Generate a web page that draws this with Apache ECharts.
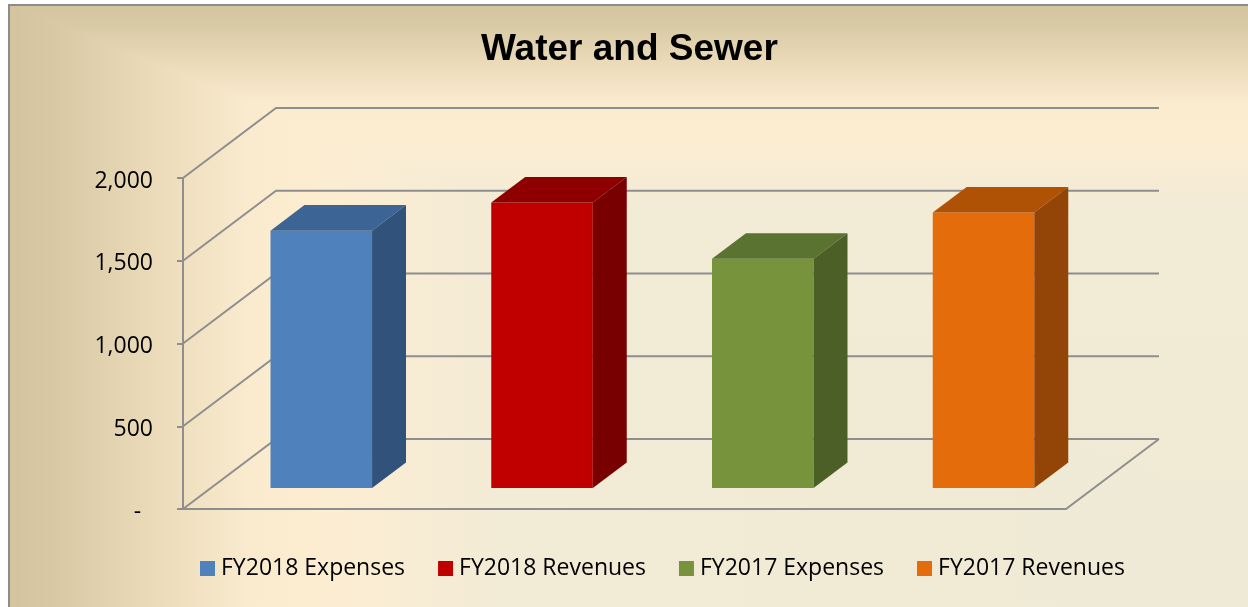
<!DOCTYPE html>
<html>
<head>
<meta charset="utf-8">
<title>Water and Sewer</title>
<script src="https://cdn.jsdelivr.net/npm/echarts@6/dist/echarts.min.js"></script>
<style>
    html, body { margin: 0; padding: 0; background: #ffffff; }
    #main { width: 1248px; height: 607px; }
</style>
</head>
<body>
<div id="main"></div>
<script>
;(function () {

    var seriesNames = ['FY2018 Expenses', 'FY2018 Revenues', 'FY2017 Expenses', 'FY2017 Revenues'];
    var seriesValues = [1555, 1725, 1385, 1665];
    var yTickValues = [0, 500, 1000, 1500, 2000];
    var yTickLabels = ['-  ', '500', '1,000', '1,500', '2,000'];

    // front / top / side shade of each bar
    var shades = [
        ['#4F81BD', '#3C6494', '#30527B'],
        ['#C00000', '#8E0000', '#780000'],
        ['#77933C', '#5B7331', '#4C5F27'],
        ['#E46C0A', '#B05206', '#934407']
    ];

    var DEPTH_X = 93, DEPTH_Y = -70;   // offset of the back wall
    var BAR_FRONT = 0.3, BAR_BACK = 0.665, BAR_WIDTH = 0.46;
    var LINE = '#8E8E8E';

    function renderFrame(params, api) {
        var cs = params.coordSys;
        var v = api.value(1);
        var y = api.coord([0, v])[1];
        var left = cs.x, right = cs.x + cs.width;
        var children = [{
            type: 'polyline',
            shape: { points: [[left, y], [left + DEPTH_X, y + DEPTH_Y], [right + DEPTH_X, y + DEPTH_Y]] },
            style: { stroke: LINE, lineWidth: 2, fill: null }
        }];
        if (v === 0) {
            children.push({
                type: 'polyline',
                shape: { points: [[left, y], [right, y], [right + DEPTH_X, y + DEPTH_Y]] },
                style: { stroke: LINE, lineWidth: 2, fill: null }
            });
        }
        return { type: 'group', children: children };
    }

    function makeBarRenderer(k) {
        return function (params, api) {
            var cat = api.value(0);
            var base = api.coord([cat, 0]);
            var top = api.coord([cat, api.value(1)]);
            var w = api.size([1, 0])[0] * BAR_WIDTH;
            var x0 = base[0] - w / 2 + DEPTH_X * BAR_FRONT;
            var yb = base[1] + DEPTH_Y * BAR_FRONT;
            var yt = top[1] + DEPTH_Y * BAR_FRONT;
            var dx = DEPTH_X * (BAR_BACK - BAR_FRONT);
            var dy = DEPTH_Y * (BAR_BACK - BAR_FRONT);
            var c = shades[k];
            return {
                type: 'group',
                children: [{
                    type: 'rect',
                    shape: { x: x0, y: yt, width: w, height: yb - yt },
                    style: { fill: c[0] }
                }, {
                    type: 'polygon',
                    shape: { points: [[x0, yt], [x0 + w, yt], [x0 + w + dx, yt + dy], [x0 + dx, yt + dy]] },
                    style: { fill: c[1] }
                }, {
                    type: 'polygon',
                    shape: { points: [[x0 + w, yt], [x0 + w + dx, yt + dy], [x0 + w + dx, yb + dy], [x0 + w, yb]] },
                    style: { fill: c[2] }
                }]
            };
        };
    }

    function gradient(x2, y2, stops) {
        return {
            type: 'linear', x: 0, y: 0, x2: x2, y2: y2, global: true,
            colorStops: stops
        };
    }

    var W = 1248, H = 607;
    var hStops = [
        { offset: 0, color: '#D2C39E' },
        { offset: 60 / W, color: '#D9CAA6' },
        { offset: 150 / W, color: '#EADAB8' },
        { offset: 250 / W, color: '#FAEBCF' },
        { offset: 320 / W, color: '#FCEDD1' },
        { offset: 520 / W, color: '#F2EBD6' },
        { offset: 1, color: '#EFEAD5' }
    ];
    var vStops = [
        { offset: 0, color: '#D2C39E' },
        { offset: 25 / H, color: '#D9CAA6' },
        { offset: 62 / H, color: '#EADAB8' },
        { offset: 103 / H, color: '#FAEBCF' },
        { offset: 132 / H, color: '#FCEDD1' },
        { offset: 215 / H, color: '#F2EBD6' },
        { offset: 1, color: '#EFEAD5' }
    ];
    var splitY = W * 0.4125;

    var series = [{
        name: 'frame',
        type: 'custom',
        z: 1,
        silent: true,
        renderItem: renderFrame,
        data: yTickValues.map(function (v) { return [0, v]; })
    }];
    seriesNames.forEach(function (name, k) {
        series.push({
            name: name,
            type: 'custom',
            z: 2,
            itemStyle: { color: shades[k][0] },
            renderItem: makeBarRenderer(k),
            data: [[k, seriesValues[k]]]
        });
    });

    var option = {
        animation: false,
        backgroundColor: '#ffffff',
        graphic: [{
            type: 'rect',
            z: -11,
            silent: true,
            shape: { x: 9, y: 5, width: W - 9, height: H - 5 },
            style: { fill: gradient(W, 0, hStops) }
        }, {
            type: 'polygon',
            z: -10,
            silent: true,
            shape: { points: [[9, 5], [W, 5], [W, splitY]] },
            style: { fill: gradient(0, H, vStops) }
        }, {
            type: 'polyline',
            z: -9,
            silent: true,
            shape: { points: [[9, H], [9, 5], [W, 5]] },
            style: { stroke: '#8C8C8C', lineWidth: 2, fill: null }
        }],
        title: {
            text: 'Water and Sewer',
            left: 476,
            top: 26,
            textStyle: {
                fontFamily: 'Liberation Sans',
                fontSize: 37,
                fontWeight: 'bold',
                color: '#000000'
            }
        },
        legend: {
            data: seriesNames,
            left: 195,
            top: 552,
            icon: 'rect',
            itemWidth: 15,
            itemHeight: 15,
            itemGap: 33,
            textStyle: {
                fontFamily: 'Open Sans',
                fontSize: 23,
                color: '#000000',
                padding: [0, 0, 0, 1]
            }
        },
        grid: {
            left: 183,
            right: 182,
            top: 178,
            bottom: 98
        },
        xAxis: {
            type: 'category',
            data: seriesNames,
            show: false
        },
        yAxis: {
            type: 'value',
            min: 0,
            max: 2000,
            interval: 500,
            axisLine: { show: true, lineStyle: { color: LINE, width: 2 } },
            axisTick: { show: true, length: 6, lineStyle: { color: LINE, width: 2 } },
            splitLine: { show: false },
            axisLabel: {
                margin: 30,
                fontFamily: 'Open Sans',
                fontSize: 23,
                color: '#000000',
                formatter: function (v) {
                    var i = yTickValues.indexOf(v);
                    return i >= 0 ? '{t|' + yTickLabels[i] + '}' : '';
                },
                rich: {
                    t: {
                        fontFamily: 'Open Sans',
                        fontSize: 23,
                        color: '#000000',
                        padding: [6, 0, 0, 0]
                    }
                }
            }
        },
        series: series
    };

    var chart = echarts.init(document.getElementById('main'));
    chart.setOption(option);
})();
</script>
</body>
</html>
